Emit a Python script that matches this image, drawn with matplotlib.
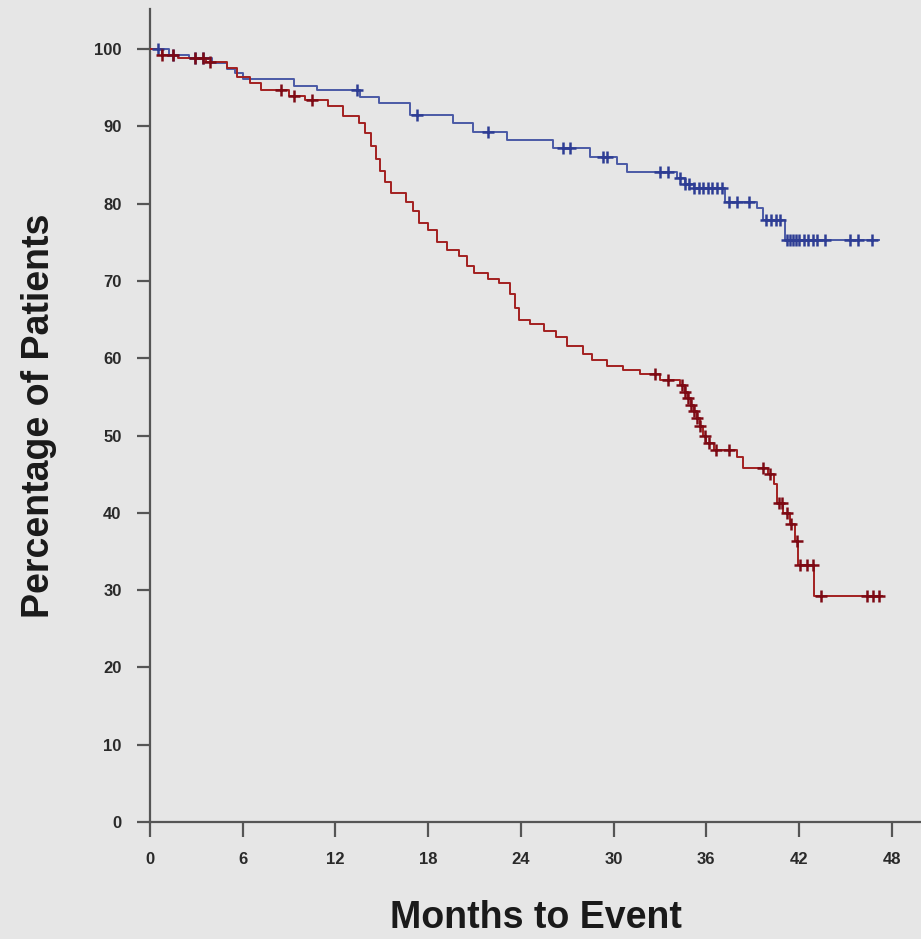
import numpy as np
import matplotlib
matplotlib.use("Agg")
import matplotlib.pyplot as plt

plt.rcParams['font.family'] = ['Liberation Sans', 'DejaVu Sans']

# Kaplan-Meier step data: event times (months) and survival (%) after each step
blue_times = [0, 1.2, 2.5, 4.0, 5.0, 5.5, 6.0, 9.3, 10.8, 13.6, 14.8, 16.8, 19.6,
              20.9, 23.1, 26.1, 28.5, 30.2, 30.9, 34.1, 34.6, 35.2, 37.2, 39.3,
              39.7, 41.1]
blue_surv = [100, 99.3, 98.8, 98.2, 97.5, 96.9, 96.2, 95.3, 94.7, 93.8, 93.0, 91.5,
             90.4, 89.3, 88.2, 87.2, 86.0, 85.2, 84.1, 83.3, 82.5, 82.0, 80.2, 79.4,
             77.9, 75.3]
blue_censor = [0.5, 1.5, 2.9, 3.4, 13.4, 17.3, 21.9, 26.7, 27.2, 29.3, 29.6, 33.0,
               33.5, 34.3, 34.6, 34.9, 35.2, 35.5, 35.8, 36.1, 36.4, 36.7, 37.0, 37.5,
               38.0, 38.8, 39.9, 40.2, 40.5, 40.8, 41.2, 41.4, 41.6, 41.8, 42.0, 42.3,
               42.6, 42.9, 43.2, 43.7, 45.3, 45.8, 46.7]
blue_end = 47.2

red_times = [0, 0.8, 1.8, 3.6, 5.0, 5.6, 6.5, 7.2, 9.0, 10.0, 11.5, 12.5, 13.5, 13.9,
             14.3, 14.6, 14.9, 15.2, 15.6, 16.6, 17.0, 17.4, 18.0, 18.6, 19.2, 20.0,
             20.5, 21.0, 21.9, 22.6, 23.3, 23.6, 23.9, 24.6, 25.5, 26.3, 27.0, 28.0,
             28.6, 29.6, 30.6, 31.7, 33.0, 34.3, 34.6, 34.8, 35.0, 35.2, 35.4, 35.6,
             35.8, 36.0, 36.5, 38.0, 38.4, 40.0, 40.4, 40.6, 41.0, 41.4, 41.75, 41.95,
             43.0]
red_surv = [100, 99.3, 98.8, 98.3, 97.6, 96.4, 95.6, 94.7, 94.0, 93.4, 92.6, 91.4,
            90.5, 89.1, 87.5, 85.8, 84.2, 82.8, 81.4, 80.2, 79.0, 77.5, 76.6, 75.1,
            74.0, 73.3, 72.0, 71.0, 70.2, 69.7, 68.3, 66.5, 65.0, 64.4, 63.5, 62.7,
            61.6, 60.6, 59.8, 59.0, 58.5, 58.0, 57.2, 56.5, 55.6, 54.8, 54.0, 53.2,
            52.3, 51.3, 50.0, 49.0, 48.2, 47.2, 45.8, 45.0, 43.8, 41.3, 40.0, 38.5,
            36.3, 33.2, 29.2]
red_censor = [0.8, 1.5, 2.9, 3.4, 3.9, 8.5, 9.3, 10.5, 32.7, 33.5, 34.4, 34.6, 34.8,
              35.0, 35.2, 35.4, 35.6, 35.9, 36.2, 36.6, 37.5, 39.7, 40.1, 40.7, 40.9,
              41.2, 41.5, 41.85, 42.1, 42.5, 42.9, 43.4, 46.4, 46.8, 47.2]
red_end = 47.4

x_ticks = [0, 6, 12, 18, 24, 30, 36, 42, 48]
y_ticks = [0, 10, 20, 30, 40, 50, 60, 70, 80, 90, 100]

BG = '#e6e6e6'
BLUE_LINE = '#4a5aa6'
BLUE_MARK = '#2e3d94'
RED_LINE = '#a32020'
RED_MARK = '#7d0a14'
AXIS = '#555555'


def step_value(times, surv, t):
    idx = np.searchsorted(np.asarray(times), np.asarray(t), side='right') - 1
    return np.asarray(surv)[idx]


fig = plt.figure(figsize=(9.21, 9.39), dpi=100, facecolor=BG)
ax = fig.add_axes([150 / 921, 117 / 939, 771 / 921, 813 / 939], facecolor=BG)

for times, surv, cens, end, lc, mc in [
        (blue_times, blue_surv, blue_censor, blue_end, BLUE_LINE, BLUE_MARK),
        (red_times, red_surv, red_censor, red_end, RED_LINE, RED_MARK)]:
    tx = list(times) + [end]
    sy = list(surv) + [surv[-1]]
    ax.step(tx, sy, where='post', color=lc, lw=1.4, zorder=3)
    ax.plot(cens, step_value(times, surv, cens), linestyle='none', marker='+',
            markersize=8.5, markeredgewidth=1.8, color=mc, zorder=4)

ax.set_xlim(0, 49.9)
ax.set_ylim(0, 105.2)
ax.set_xticks(x_ticks)
ax.set_yticks(y_ticks)
ax.set_xticklabels([str(v) for v in x_ticks])
ax.set_yticklabels([str(v) for v in y_ticks])

for side in ('top', 'right'):
    ax.spines[side].set_visible(False)
for side in ('left', 'bottom'):
    ax.spines[side].set_color(AXIS)
    ax.spines[side].set_linewidth(1.6)
    ax.spines[side].set_zorder(2)

ax.tick_params(axis='both', colors=AXIS, width=1.6, labelcolor='#2a2a2a',
               labelsize=12)
for lbl in ax.get_xticklabels() + ax.get_yticklabels():
    lbl.set_fontweight('bold')
ax.tick_params(axis='y', length=9.5, pad=11)
ax.tick_params(axis='x', length=10.5, pad=11)

ax.set_xlabel('Months to Event', fontsize=27, fontweight='bold', color='#1a1a1a',
              labelpad=24)
ax.set_ylabel('Percentage of Patients', fontsize=27, fontweight='bold',
              color='#1a1a1a', labelpad=27)

fig.savefig('out.png', dpi=100, facecolor=BG)
